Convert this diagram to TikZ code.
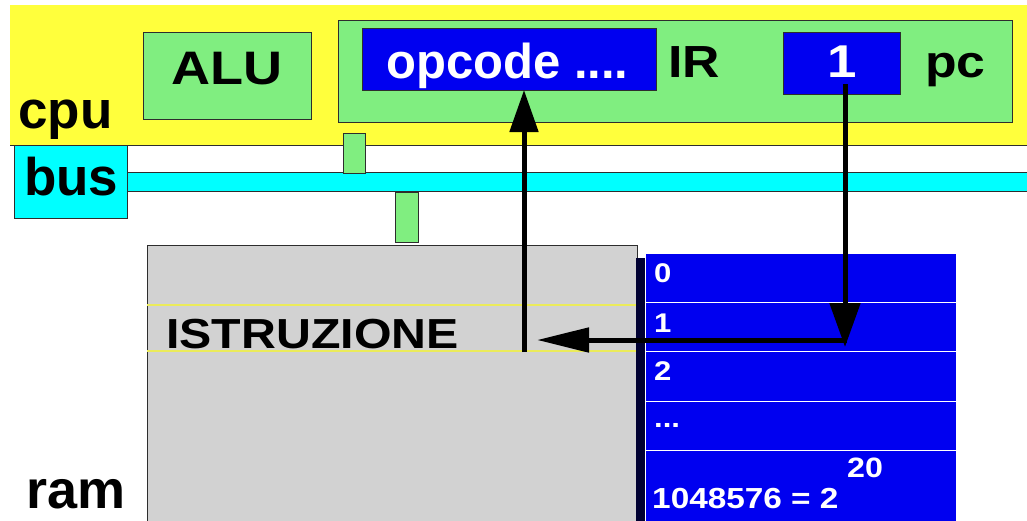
\documentclass[tikz,border=0pt]{standalone}
\usepackage{fontspec}
\setmainfont{Liberation Sans}
\newfontfamily\widefont[FakeStretch=1.15]{Liberation Sans}
\usetikzlibrary{arrows.meta}
\definecolor{cpuyellow}{RGB}{255,255,60}
\definecolor{boxgreen}{RGB}{128,238,128}
\definecolor{regblue}{RGB}{0,0,240}
\definecolor{buscyan}{RGB}{0,255,255}
\definecolor{ramgray}{RGB}{210,210,210}
\definecolor{edgecol}{RGB}{45,45,45}
\definecolor{shadownavy}{RGB}{0,0,50}
\definecolor{slotyellow}{RGB}{235,235,90}
\begin{document}
\begin{tikzpicture}[x=1pt,y=-1pt,
  area/.style={inner sep=0pt, outer sep=0pt, anchor=north west},
  box/.style={area, draw=edgecol, line width=1pt},
  greenbox/.style={box, fill=boxgreen},
  bluebox/.style={box, fill=regblue, text=white},
  cell/.style={area, fill=regblue, draw=white, line width=0.8pt},
  big/.style={font=\fontsize{53}{53}\selectfont\bfseries, inner sep=0pt},
  widebig/.style={font=\fontsize{#1}{#1}\selectfont\widefont\bfseries, inner sep=0pt},
  small/.style={font=\fontsize{27}{27}\selectfont\widefont\bfseries, inner sep=0pt, text=white},
  arr/.style={line width=5pt, draw=black},
]
\useasboundingbox (0,0) rectangle (1027,520);
\fill[white] (0,0) rectangle (1027,520);

% CPU area
\node[area, fill=cpuyellow, minimum width=1017, minimum height=140] (cpu) at (10,5) {};
\draw[edgecol, line width=1pt] (cpu.south west) -- (cpu.south east);
\node[big, anchor=base west] (cpulbl) at (18,128) {cpu};

\node[greenbox, minimum width=168, minimum height=87] (alu) at (143,32) {};
\node[widebig=47, anchor=base] (alutxt) at ([yshift=0]alu.center |- 0,84) {ALU};

\node[greenbox, minimum width=674, minimum height=102] (ir) at (338,20) {};
\node[bluebox, minimum width=294, minimum height=62] (opcode) at (362,28) {};
\node[font=\fontsize{49}{49}\selectfont\bfseries, inner sep=0pt, text=white, anchor=base west] (opctxt) at (386,78) {opcode ....};
\node[widebig=45, anchor=base west] (irtxt) at (668,77) {IR};
\node[bluebox, minimum width=117, minimum height=62] (pc) at (783,32) {};
\node[widebig=46, text=white, anchor=base] (pctxt) at (842,77) {1};
\node[widebig=45, anchor=base west] (pclbl) at (925,77) {pc};

% bus
\node[area, fill=white, minimum width=900, minimum height=27] (gap) at (127,146) {};
\node[area, fill=buscyan, minimum width=900, minimum height=19] (busline) at (127,172) {};
\draw[edgecol, line width=1pt] (busline.north west) -- (busline.north east);
\draw[edgecol, line width=1pt] (busline.south west) -- (busline.south east);
\node[box, fill=buscyan, minimum width=113, minimum height=73] (buslbl) at (14,145) {};
\node[big, anchor=base west] (bustxt) at (24,195) {bus};

\node[greenbox, minimum width=22, minimum height=40] (conn1) at (343,133) {};
\node[greenbox, minimum width=23, minimum height=50] (conn2) at (395,192) {};

% RAM
\node[box, fill=ramgray, minimum width=490, minimum height=280] (ram) at (147,245) {};
\node[area, minimum width=492, minimum height=46] (slot) at (147,305) {};
\draw[slotyellow, line width=1.2pt] (slot.north west) -- (slot.north east);
\draw[slotyellow, line width=1.2pt] (slot.south west) -- (slot.south east);
\node[widebig=42, anchor=base west] (istr) at (166,348) {ISTRUZIONE};
\node[font=\fontsize{54}{54}\selectfont\bfseries, inner sep=0pt, anchor=base west] (ramtxt) at (26,508) {ram};

\fill[shadownavy] (636,258) rectangle (645,522);
\node[cell, minimum width=311, minimum height=49] (m0) at (645,253) {};
\node[cell, minimum width=311, minimum height=49] (m1) at (645,302) {};
\node[cell, minimum width=311, minimum height=50] (m2) at (645,351) {};
\node[cell, minimum width=311, minimum height=49] (m3) at (645,401) {};
\node[cell, minimum width=311, minimum height=75] (m4) at (645,450) {};
\node[small, anchor=base west] (l0) at (654,282) {0};
\node[small, anchor=base west] (l1) at (654,332) {1};
\node[small, anchor=base west] (l2) at (654,380) {2};
\node[small, anchor=base west] (l3) at (654,427) {...};
\node[widebig=29, text=white, anchor=base west] (l4) at (652,508) {1048576 = 2};
\node[widebig=28, text=white, anchor=base west] (l4exp) at (847,477) {20};

% arrows
\coordinate (upstart) at (524,352);
\draw[arr, -{Triangle[length=42pt, width=28pt]}] (upstart) -- (upstart |- opcode.south);
\coordinate (pcstart) at (845,84);
\coordinate (pcend) at (845,347);
\draw[arr, -{Triangle[length=44pt, width=30pt]}] (pcstart) -- (pcend);
\coordinate (corner) at (847,340);
\coordinate (leftend) at (537,340);
\draw[arr, -{Triangle[length=52pt, width=24pt]}] (corner) -- (leftend);
\end{tikzpicture}
\end{document}
